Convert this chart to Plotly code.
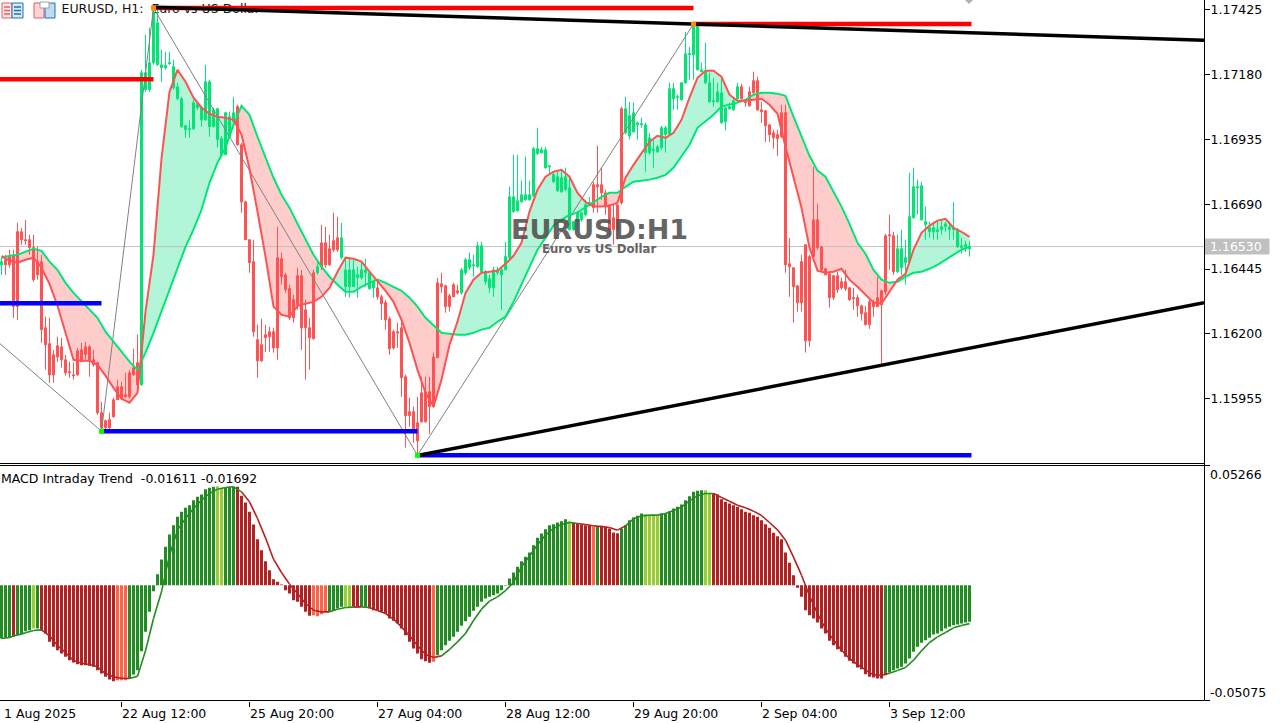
import plotly.graph_objects as go

# ---- price data, in points (1e-5), one value per H1 bar ----
OPEN = [116461,116480,116492,116495,116586,116586,116556,116556,116526,116473,116473,116223,116163,116121,116155,116151,116102,116057,116045,116136,
116140,116151,116151,116102,116091,115902,115872,115876,115951,116000,116000,115970,116053,116072,116091,116008,117123,117123,117225,117217,
117206,117206,117221,117130,117089,116983,116972,116972,116975,117055,117009,117009,116983,116983,116934,116877,116877,116945,117002,117059,
116915,116699,116556,116473,116178,116159,116197,116208,116208,116488,116484,116423,116371,116329,116420,116420,116291,116223,116431,116431,
116544,116544,116522,116552,116563,116488,116378,116378,116378,116412,116412,116431,116371,116374,116374,116340,116318,116257,116208,116208,
116223,116038,115906,115906,115864,115977,115981,115981,116113,116393,116389,116382,116344,116386,116363,116355,116431,116450,116457,116454,
116435,116397,116374,116374,116431,116423,116442,116488,116662,116665,116699,116707,116707,116722,116881,116885,116828,116832,116775,116741,
116737,116745,116594,116594,116624,116631,116650,116688,116764,116764,116764,116733,116688,116639,116688,117051,116960,116949,116964,116990,
116990,116885,116885,116892,116888,116904,116953,116953,117089,117093,117085,117149,117255,117255,117198,117191,117149,117077,117077,117077,
116998,117002,117051,117047,117089,117134,117077,117115,117157,117157,117047,117043,116990,116960,116953,117036,117036,116465,116450,116382,
116473,116537,116492,116631,116631,116529,116446,116427,116420,116420,116397,116397,116374,116337,116337,116306,116280,116321,116321,116337,
116363,116571,116575,116571,116435,116450,116469,116473,116639,116752,116631,116613,116586,116586,116586,116594,116605,116594,116594,116529,
116526,116529,116522]
CLOSE = [116473,116461,116461,116303,116303,116556,116552,116526,116405,116423,116216,116159,116045,116045,116113,116102,116053,116053,116042,116045,
116095,116121,116102,116083,115902,115845,115845,115845,115887,115951,115959,115962,115962,116045,116008,117187,117187,117225,117414,117376,
117217,117214,117225,117210,117134,117089,116987,116975,117074,117070,117055,117153,117153,117047,117051,116938,117036,117021,117036,116915,
116699,116556,116469,116208,116098,116098,116185,116189,116147,116147,116416,116367,116261,116261,116310,116223,116223,116185,116182,116454,
116454,116461,116461,116518,116518,116563,116442,116442,116442,116423,116442,116442,116431,116397,116340,116314,116253,116144,116147,116204,
116034,115891,115891,115830,115796,115868,115868,115925,115925,116110,116378,116303,116303,116340,116355,116442,116480,116480,116461,116533,
116533,116435,116408,116442,116442,116442,116492,116718,116718,116703,116726,116726,116726,116900,116900,116896,116896,116835,116802,116794,
116790,116794,116752,116624,116658,116658,116688,116696,116677,116756,116733,116681,116594,116594,116590,116696,117051,117025,117036,116998,
116994,116990,116941,116896,116907,116979,116979,117127,117127,117096,117149,117259,117259,117361,117361,117198,117191,117149,117081,117115,
117111,117055,117059,117081,117134,117089,117074,117062,117111,117047,117040,116987,116953,116941,116938,116945,116461,116454,116378,116318,
116318,116174,116174,116492,116526,116442,116423,116337,116337,116367,116374,116371,116329,116333,116306,116276,116235,116235,116303,116303,
116310,116359,116571,116435,116522,116522,116488,116643,116756,116756,116760,116624,116601,116601,116594,116605,116616,116605,116601,116594,
116533,116537,116529]
HIGH = [116488,116499,116518,116518,116620,116601,116631,116575,116575,116529,116499,116265,116261,116140,116189,116185,116121,116095,116091,116147,
116166,116170,116159,116140,116095,115943,115876,115902,115959,116027,116019,116053,116064,116144,116197,117198,117331,117357,117433,117425,
117274,117266,117266,117236,117149,117096,116990,117009,117085,117074,117062,117217,117161,117055,117055,116949,117040,117040,117096,117066,
116922,116703,116556,116556,116235,116257,116235,116227,116223,116605,116507,116431,116386,116348,116450,116442,116329,116261,116442,116473,
116612,116605,116575,116658,116643,116620,116488,116488,116480,116454,116469,116484,116435,116405,116405,116348,116329,116265,116216,116242,
116261,116045,115959,115925,115962,116038,116038,116038,116129,116412,116431,116386,116352,116393,116386,116450,116488,116507,116499,116548,
116548,116442,116423,116454,116454,116450,116548,116756,116877,116877,116779,116870,116779,116907,116979,116907,116907,116839,116813,116813,
116820,116828,116794,116628,116665,116662,116707,116718,116775,116911,116828,116745,116688,116688,116688,117059,117096,117077,117074,117002,
117017,116998,116960,116941,116915,116987,116987,117149,117149,117104,117153,117342,117285,117372,117369,117225,117300,117187,117168,117149,
117168,117059,117074,117089,117149,117145,117085,117134,117191,117172,117077,117047,116994,116972,116972,117066,117066,116563,116450,116382,
116499,116537,116499,116832,116692,116533,116450,116435,116423,116435,116412,116442,116378,116374,116348,116310,116306,116329,116329,116416,
116367,116578,116650,116586,116575,116594,116556,116809,116828,116783,116775,116681,116624,116624,116624,116631,116624,116624,116699,116601,
116563,116552,116552]
LOW = [116423,116423,116450,116261,116253,116537,116537,116499,116397,116405,116166,116064,116015,116015,116095,116072,116042,116034,116027,116042,
116095,116102,116038,116076,115894,115838,115838,115838,115883,115951,115951,115959,115955,116042,116000,116004,117115,117115,117217,117214,
117153,117198,117217,117123,117085,116979,116941,116941,116972,117047,116983,117006,116945,116983,116904,116870,116877,116945,116998,116911,
116658,116556,116431,116189,116034,116095,116132,116132,116129,116102,116386,116355,116253,116242,116291,116140,116027,116064,116178,116423,
116442,116450,116457,116510,116510,116480,116340,116337,116378,116337,116405,116378,116367,116337,116329,116253,116216,116121,116140,116147,
115962,115770,115849,115788,115743,115864,115864,115822,115921,116110,116355,116280,116284,116340,116348,116348,116423,116442,116416,116450,
116431,116386,116355,116340,116423,116291,116442,116484,116658,116662,116696,116703,116703,116718,116877,116881,116824,116802,116771,116737,
116733,116741,116590,116590,116594,116624,116643,116681,116658,116658,116707,116650,116575,116537,116556,116688,116953,116934,116960,116934,
116979,116813,116877,116828,116885,116896,116885,116949,117047,117047,117081,117145,117161,117161,117195,117191,117145,117074,117059,117074,
116994,116968,117047,117043,117085,117085,117059,117059,117108,117043,116998,116926,116926,116900,116873,116941,116431,116340,116242,116284,
116284,116129,116151,116480,116518,116435,116423,116299,116329,116355,116367,116363,116325,116291,116265,116250,116231,116219,116265,116303,
116087,116348,116442,116423,116431,116423,116386,116469,116635,116650,116628,116556,116563,116556,116556,116575,116586,116556,116556,116526,
116503,116510,116492]

# ---- moving averages, in points, every second bar ----
MA_SLOW = [116488,116495,116499,116510,116522,116514,116473,116442,116393,116355,116325,116291,116261,116208,116170,116129,116095,116064,116129,116204,
116284,116367,116450,116529,116594,116669,116771,116847,116904,116990,117062,117028,116945,116866,116790,116726,116677,116616,116556,116499,
116454,116416,116386,116359,116359,116378,116393,116405,116393,116378,116363,116337,116303,116261,116231,116204,116200,116197,116197,116204,
116216,116223,116246,116265,116321,116386,116450,116518,116563,116609,116631,116650,116658,116677,116696,116718,116733,116733,116756,116775,
116779,116783,116790,116801,116828,116870,116915,116979,117002,117028,117059,117066,117074,117085,117104,117111,117111,117108,117100,117021,
116945,116873,116817,116794,116737,116681,116616,116544,116503,116442,116405,116393,116397,116416,116431,116435,116446,116461,116480,116499,
116518,116529]
MA_FAST = [116495,116476,116469,116480,116488,116450,116389,116306,116204,116102,116098,116098,116083,116042,115996,115955,115940,115977,116284,116499,
116862,117115,117198,117153,117093,117055,117032,117021,117017,117009,116953,116824,116662,116492,116303,116272,116265,116306,116314,116321,
116340,116374,116435,116488,116484,116473,116435,116401,116363,116321,116253,116166,116064,115977,115925,116027,116159,116246,116355,116405,
116431,116435,116439,116465,116495,116544,116662,116745,116794,116813,116820,116794,116733,116699,116681,116681,116684,116696,116790,116839,
116885,116926,116949,116941,116960,117009,117093,117168,117195,117195,117172,117104,117081,117081,117085,117089,117066,117032,116907,116790,
116677,116526,116439,116431,116435,116446,116405,116378,116348,116318,116314,116359,116405,116427,116518,116582,116609,116628,116635,116601,
116586,116567]

# ---- MACD panel, in 1e-5, histogram per bar and signal every second bar ----
MACD_HIST = [-2347,-2318,-2303,-2274,-2200,-2127,-2024,-1980,-1907,-1907,-2010,-2127,-2494,-2714,-2861,-3007,-3154,-3301,-3403,-3477,
-3521,-3521,-3550,-3594,-3741,-3888,-4034,-4152,-4225,-4181,-4181,-4181,-4108,-3932,-3741,-2905,-2054,-1174,-264,484,
1130,1687,2230,2641,3007,3227,3403,3521,3741,3888,3990,4225,4284,4328,4357,4254,4284,4328,4328,4328,
3932,3638,3227,2670,2024,1540,1056,660,264,147,29,-220,-367,-660,-734,-954,-1174,-1350,-1320,-1364,
-1276,-1174,-1174,-1100,-1027,-954,-954,-954,-954,-954,-954,-954,-1027,-1100,-1100,-1174,-1247,-1467,-1570,-1687,
-1907,-2200,-2494,-2787,-3007,-3257,-3345,-3418,-3374,-3081,-2861,-2641,-2450,-2274,-2054,-1790,-1584,-1394,-1130,-954,
-734,-587,-513,-440,-367,-220,-29,293,557,807,1056,1247,1438,1760,2083,2274,2465,2641,2685,2758,
2817,2905,2817,2758,2714,2670,2641,2611,2567,2597,2611,2567,2494,2318,2289,2494,2641,2861,2978,3051,
3154,3110,3081,3081,3081,3154,3154,3257,3374,3447,3550,3741,3917,4108,4152,4181,4181,4034,4034,3990,
3785,3668,3594,3521,3447,3345,3227,3183,3081,3007,2861,2685,2523,2303,2156,2024,1438,983,440,-117,
-513,-1100,-1320,-1467,-1643,-1907,-2127,-2450,-2641,-2817,-2934,-3154,-3330,-3447,-3623,-3697,-3917,-4034,-4064,-4108,
-4108,-3961,-3844,-3741,-3668,-3594,-3447,-3227,-2934,-2714,-2538,-2421,-2318,-2171,-2127,-2024,-1907,-1834,-1760,-1731,
-1687,-1643,-1611]
MACD_SIGNAL = [-2347,-2303,-2186,-2098,-1995,-1966,-2230,-2655,-2963,-3315,-3433,-3491,-3594,-3888,-4034,-4093,-4108,-4005,-2890,-1467,
-293,1320,2421,2934,3374,3741,4034,4225,4298,4328,4108,3668,2934,2083,1144,557,44,-367,-807,-1100,
-1174,-1174,-1056,-983,-968,-954,-983,-1115,-1247,-1496,-1834,-2230,-2655,-3037,-3183,-3110,-2831,-2494,-2127,-1555,
-1056,-704,-513,-235,117,807,1276,1775,2200,2494,2670,2758,2714,2670,2611,2582,2538,2421,2611,2919,
3051,3081,3081,3154,3286,3433,3711,3932,4034,4034,3858,3697,3521,3403,3257,3066,2758,2435,1980,1232,
440,-469,-1247,-1907,-2406,-2861,-3227,-3491,-3726,-3946,-3961,-3873,-3756,-3623,-3301,-2890,-2523,-2274,-2083,-1878,
-1775,-1692]
MACD_CLASS_RUNS = [("g",3),("r",1),("g",4),("l",1),("g",1),("r",19),("o",3),("g",22),("l",2),("g",3),("r",19),("o",4),
("g",4),("l",2),("r",2),("g",2),("r",16),("o",1),("g",33),("l",1),("r",5),("o",1),("g",1),("r",5),("g",6),("l",4),
("g",11),("l",2),("r",43),("g",22)]

# ---- levels and structure, in points ----
ZIGZAG_BARS = [-0.375,25,38,104,173]
ZIGZAG_PRICE = [116163,115832,117432,115741,117371]
RES_LEVELS = [(-0.375,38,117162),(38,173,117432),(173,242.5,117371)]
SUP_LEVELS = [(-0.375,25,116316),(25,104,115832),(104,242.5,115741)]
TREND_TOP = ((38,117435),(300.625,117310))
TREND_BOTTOM = ((104,115740),(300.625,116318))
LAST_PRICE = 116530
PRICE_TICKS = [1.17425,1.17180,1.16935,1.16690,1.16445,1.16200,1.15955]
TIME_TICK_BARS = [30,62,94,126,158,190,222]
TIME_TICK_TEXT = ["22 Aug 12:00","25 Aug 20:00","27 Aug 04:00","28 Aug 12:00","29 Aug 20:00","2 Sep 04:00","3 Sep 12:00"]
FIRST_TIME_TEXT = "1 Aug 2025"
MACD_TICKS = [0.05266,-0.05075]

N = len(OPEN)
assert len(CLOSE)==N and len(HIGH)==N and len(LOW)==N and len(MACD_HIST)==N, (N,len(CLOSE),len(HIGH),len(LOW),len(MACD_HIST))
assert len(MA_SLOW)==len(MA_FAST)==len(MACD_SIGNAL)==122, (len(MA_SLOW),len(MA_FAST),len(MACD_SIGNAL))

W, H = 1281, 723
AX_X, TOP_END, LOW_TOP, LOW_END = 1204, 463.5, 465.5, 700.5
FONT = "DejaVu Sans"
UP, DOWN = "#00e676", "#ff5252"
pt = lambda v: v / 1e5
bars = list(range(N))
even = bars[::2]
classes = "".join(c * k for c, k in MACD_CLASS_RUNS)
assert len(classes) == N, len(classes)
PAL = {"g": "#228b22", "r": "#b22222", "o": "#ff6347", "l": "#9acd32"}

fig = go.Figure()
XA = dict(xaxis="x", yaxis="y")
XB = dict(xaxis="x2", yaxis="y2")
quiet = dict(hoverinfo="skip", showlegend=False)

# filled band between the averages
def band(xs, a, b):
    runs, cur = [], None
    for i in range(len(xs) - 1):
        s0, s1 = a[i] - b[i], a[i + 1] - b[i + 1]
        if s0 == 0 or s0 * s1 > 0 or s1 == 0:
            seg = [(xs[i], a[i], b[i]), (xs[i + 1], a[i + 1], b[i + 1])]
            sign = s0 if s0 != 0 else s1
            pieces = [(sign, seg)]
        else:
            t = s0 / (s0 - s1)
            xc = xs[i] + t * (xs[i + 1] - xs[i])
            yc = a[i] + t * (a[i + 1] - a[i])
            pieces = [(s0, [(xs[i], a[i], b[i]), (xc, yc, yc)]), (s1, [(xc, yc, yc), (xs[i + 1], a[i + 1], b[i + 1])])]
        for sign, seg in pieces:
            up = sign > 0
            if cur is None or cur[0] != up:
                cur = (up, list(seg))
                runs.append(cur)
            else:
                cur[1].append(seg[1])
    return runs

for up, pts in band(even, MA_FAST, MA_SLOW):
    xs = [p[0] for p in pts] + [p[0] for p in reversed(pts)]
    ys = [pt(p[1]) for p in pts] + [pt(p[2]) for p in reversed(pts)]
    fig.add_trace(go.Scatter(x=xs, y=ys, mode="lines", fill="toself", line=dict(width=0),
                             fillcolor="#b3f5d8" if up else "#ffcccc", zorder=0, **XA, **quiet))

fig.add_trace(go.Scatter(x=[15], y=[1.17425], mode="text", text=["EURUSD,\u00a0H1:\u00a0\u00a0Euro\u00a0vs\u00a0US\u00a0Dollar"],
                         textposition="middle right", textfont=dict(family=FONT, size=12.5, color="#111111"), zorder=0, **XA, **quiet))
fig.add_trace(go.Scatter(x=[-0.375, 300.625], y=[pt(LAST_PRICE)] * 2, mode="lines", line=dict(color="#c0c0c0", width=1), zorder=0, **XA, **quiet))

fig.add_trace(go.Candlestick(x=bars, open=[pt(v) for v in OPEN], high=[pt(v) for v in HIGH], low=[pt(v) for v in LOW], close=[pt(v) for v in CLOSE],
                             increasing=dict(line=dict(color=UP, width=1), fillcolor=UP),
                             decreasing=dict(line=dict(color=DOWN, width=1), fillcolor=DOWN),
                             whiskerwidth=0, zorder=1, **XA, **quiet))

fig.add_trace(go.Scatter(x=ZIGZAG_BARS, y=[pt(v) for v in ZIGZAG_PRICE], mode="lines", line=dict(color="#808080", width=1), zorder=2, **XA, **quiet))
fig.add_trace(go.Scatter(x=even, y=[pt(v) for v in MA_SLOW], mode="lines", line=dict(color="#00e676", width=2), zorder=2, **XA, **quiet))
fig.add_trace(go.Scatter(x=even, y=[pt(v) for v in MA_FAST], mode="lines", line=dict(color="#ff5252", width=2), zorder=2, **XA, **quiet))

for levels, col in ((RES_LEVELS, "#ff0000"), (SUP_LEVELS, "#0000ff")):
    for x0, x1, v in levels:
        fig.add_trace(go.Scatter(x=[x0, x1], y=[pt(v)] * 2, mode="lines", line=dict(color=col, width=4.5), zorder=3, **XA, **quiet))
for (p0, p1) in (TREND_TOP, TREND_BOTTOM):
    fig.add_trace(go.Scatter(x=[p0[0], p1[0]], y=[pt(p0[1]), pt(p1[1])], mode="lines", line=dict(color="#000000", width=3.5), zorder=3, **XA, **quiet))
fig.add_trace(go.Scatter(x=ZIGZAG_BARS[1:], y=[pt(v) for v in ZIGZAG_PRICE[1:]], mode="markers",
                         marker=dict(symbol="square", size=5, color=["#00ff00", "#ff8c00", "#00ff00", "#ff8c00"]), zorder=4, **XA, **quiet))

# MACD panel
fig.add_trace(go.Bar(x=bars, y=[pt(v) for v in MACD_HIST], width=0.75, marker=dict(color=[PAL[c] for c in classes], line=dict(width=0)), zorder=0, **XB, **quiet))
for key, col in (("up", PAL["g"]), ("dn", PAL["r"])):
    xs, ys = [], []
    for i in range(len(even) - 1):
        is_dn = classes[even[i]] in "ro"
        if is_dn == (key == "dn"):
            xs += [even[i], even[i + 1], None]
            ys += [pt(MACD_SIGNAL[i]), pt(MACD_SIGNAL[i + 1]), None]
    fig.add_trace(go.Scatter(x=xs, y=ys, mode="lines", line=dict(color=col, width=1.6), connectgaps=False, zorder=1, **XB, **quiet))

def px_ann(x, y, text, size=12.5, color="#000000", family=FONT, xanchor="left", **kw):
    return dict(x=x / W, y=1 - y / H, xref="paper", yref="paper", text=text, showarrow=False, xanchor=xanchor, yanchor="middle",
                font=dict(family=family, size=size, color=color), borderpad=0, **kw)

annotations = [
    px_ann(599, 230, "<b>EURUSD:H1</b>", size=27, color="#505050", xanchor="center", opacity=0.88),
    px_ann(599, 249, "<b>Euro vs US Dollar</b>", size=11.7, color="#505050", xanchor="center", opacity=0.88),
    px_ann(0, 478, "MACD\u00a0Intraday\u00a0Trend\u00a0\u00a0-0.01611\u00a0-0.01692"),
    px_ann(1209, 474, f"{MACD_TICKS[0]:.5f}"),
    px_ann(1209, 692, f"{MACD_TICKS[1]:.5f}"),
    px_ann(1209, 246.5, f"{pt(LAST_PRICE):.5f}", color="#ffffff"),
    px_ann(3, 713, FIRST_TIME_TEXT),
]
for n, label in zip(TIME_TICK_BARS, TIME_TICK_TEXT):
    annotations.append(px_ann(1 + 4 * n, 713, label))

def rect(x0, y0, x1, y1, fill, line, width=1, layer="above"):
    return dict(type="rect", xref="paper", yref="paper", x0=x0 / W, x1=x1 / W, y0=1 - y0 / H, y1=1 - y1 / H,
                fillcolor=fill, line=dict(color=line, width=width), layer=layer)

def seg(x0, y0, x1, y1, color="#000000", width=1):
    return dict(type="line", xref="paper", yref="paper", x0=x0 / W, x1=x1 / W, y0=1 - y0 / H, y1=1 - y1 / H,
                line=dict(color=color, width=width), layer="above")

shapes = [
    rect(1205, 239, 1269, 254, "#c0c0c0", "#c0c0c0"),
    rect(2, 3, 12, 18, "#fde3e3", "#e06060"),
    rect(12, 3, 23, 18, "#d8e8f8", "#2070b0"),
    rect(34, 3, 44, 18, "#fdd5d5", "#e06060"),
    rect(45, 3, 55, 18, "#bfdcf5", "#2070b0"),
    rect(40, 2, 49, 8, "#ffffff", "#a0a0a0"),
    dict(type="path", xref="paper", yref="paper",
         path=f"M {965/W} {1} L {973/W} {1} L {969/W} {1-4/H} Z", fillcolor="#b0b0b0", line=dict(width=0)),
    seg(AX_X + 0.5, 0, AX_X + 0.5, LOW_END),
    seg(0, TOP_END, AX_X + 0.5, TOP_END),
    seg(0, LOW_TOP, AX_X + 0.5, LOW_TOP),
    seg(0, LOW_END, AX_X + 0.5, LOW_END),
]
for yy in (7, 10.5, 14):
    shapes.append(seg(4, yy, 10, yy, "#e06060", 1.5))
    shapes.append(seg(14, yy, 21, yy, "#2070b0", 1.5))

axis_font = dict(family=FONT, size=12.5, color="#000000")
x_dom = [0, AX_X / W]
x_range = [-0.375, 300.625]
fig.update_layout(
    width=W, height=H, autosize=False, margin=dict(l=0, r=0, t=0, b=0), paper_bgcolor="#ffffff", plot_bgcolor="#ffffff",
    showlegend=False, barmode="overlay", boxgap=0.5, boxgroupgap=0, annotations=annotations, shapes=shapes,
    hovermode=False, dragmode=False,
    xaxis=dict(domain=x_dom, range=x_range, anchor="y", showgrid=False, zeroline=False, showticklabels=False, ticks="",
               showline=False, rangeslider=dict(visible=False), fixedrange=True),
    yaxis=dict(domain=[1 - TOP_END / H, 1], range=[1.15710, 1.17462], anchor="x", side="right", showgrid=False, zeroline=False,
               tickvals=PRICE_TICKS, ticktext=[f"{v:.5f}" for v in PRICE_TICKS], ticks="outside", ticklen=5, tickcolor="#000000", tickwidth=1,
               ticklabelstandoff=-2, tickfont=axis_font, showline=False, fixedrange=True),
    xaxis2=dict(domain=x_dom, range=x_range, anchor="y2", showgrid=False, zeroline=False, showticklabels=False, tickvals=TIME_TICK_BARS,
                ticks="outside", ticklen=5, tickcolor="#000000", showline=False, fixedrange=True),
    yaxis2=dict(domain=[1 - LOW_END / H, 1 - LOW_TOP / H], range=[MACD_TICKS[1], MACD_TICKS[0]], anchor="x2", side="right", showgrid=False, zeroline=False,
                tickvals=MACD_TICKS, showticklabels=False, ticks="outside", ticklen=5, tickcolor="#000000", showline=False, fixedrange=True),
)
fig.write_html("out.html", config=dict(displayModeBar=False, staticPlot=True),
               post_script="document.body.style.margin='0';document.documentElement.style.overflow='hidden';")
